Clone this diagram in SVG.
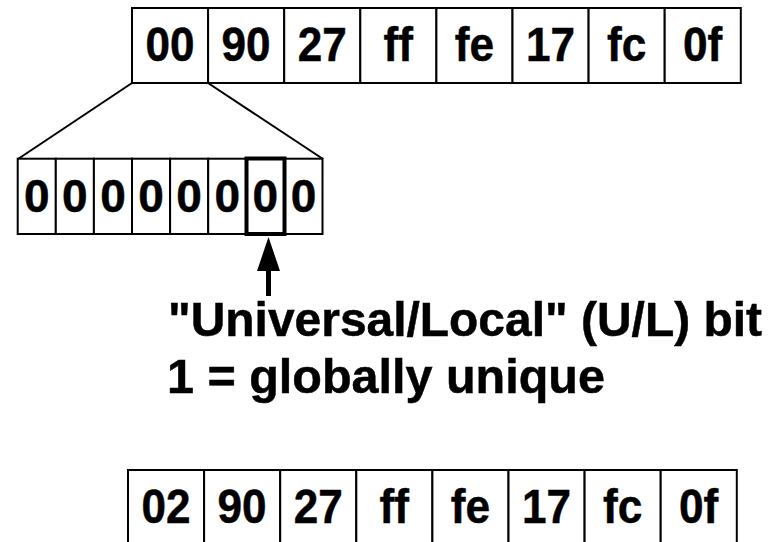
<svg xmlns="http://www.w3.org/2000/svg" width="781" height="542" viewBox="0 0 781 542">
<style>
.cell{fill:#fff;stroke:#000;stroke-width:2}
.t{font-family:"Liberation Sans",Arial,sans-serif;font-weight:bold;fill:#000;stroke:#000;stroke-width:0.5;text-anchor:middle}
.big{font-size:48px}
.bit{font-size:46px}
.lbl{font-family:"Liberation Sans",Arial,sans-serif;font-weight:bold;font-size:48.5px;fill:#000;stroke:#000;stroke-width:0.5}
</style>
<rect width="781" height="542" fill="#fff"/>
<g id="connectors" stroke="#000" fill="none">
<line x1="18" y1="159" x2="132" y2="83" stroke-width="2"/>
<line x1="323" y1="159" x2="208" y2="83" stroke-width="2"/>
<line x1="268.5" y1="296" x2="268.5" y2="268" stroke-width="5"/>
<polygon points="268.5,237 257,271 280,271" fill="#000" stroke="none"/>
</g>
<g id="top-address">
<rect class="cell" x="132" y="8" width="76.1" height="75"/>
<rect class="cell" x="208.1" y="8" width="76.1" height="75"/>
<rect class="cell" x="284.2" y="8" width="76.1" height="75"/>
<rect class="cell" x="360.3" y="8" width="76.1" height="75"/>
<rect class="cell" x="436.4" y="8" width="76.1" height="75"/>
<rect class="cell" x="512.5" y="8" width="76.1" height="75"/>
<rect class="cell" x="588.6" y="8" width="76.1" height="75"/>
<rect class="cell" x="664.7" y="8" width="76.1" height="75"/>
<text class="t big" x="170" y="61" textLength="49" lengthAdjust="spacingAndGlyphs">00</text>
<text class="t big" x="246.1" y="61" textLength="49" lengthAdjust="spacingAndGlyphs">90</text>
<text class="t big" x="322.2" y="61" textLength="49" lengthAdjust="spacingAndGlyphs">27</text>
<text class="t big" x="398.3" y="61" textLength="29.4" lengthAdjust="spacingAndGlyphs">ff</text>
<text class="t big" x="474.4" y="61" textLength="39.3" lengthAdjust="spacingAndGlyphs">fe</text>
<text class="t big" x="550.5" y="61" textLength="49" lengthAdjust="spacingAndGlyphs">17</text>
<text class="t big" x="626.6" y="61" textLength="39.3" lengthAdjust="spacingAndGlyphs">fc</text>
<text class="t big" x="702.7" y="61" textLength="39.3" lengthAdjust="spacingAndGlyphs">0f</text>
</g>
<g id="bits">
<rect class="cell" x="17.7" y="158.7" width="38.1" height="75.3"/>
<rect class="cell" x="55.8" y="158.7" width="38.1" height="75.3"/>
<rect class="cell" x="93.9" y="158.7" width="38.1" height="75.3"/>
<rect class="cell" x="132" y="158.7" width="38.1" height="75.3"/>
<rect class="cell" x="170.1" y="158.7" width="38.1" height="75.3"/>
<rect class="cell" x="208.2" y="158.7" width="38.1" height="75.3"/>
<rect class="cell" x="246.3" y="158.7" width="38.1" height="75.3"/>
<rect class="cell" x="284.4" y="158.7" width="38.1" height="75.3"/>
<text class="t bit" x="36.75" y="212">0</text>
<text class="t bit" x="74.85" y="212">0</text>
<text class="t bit" x="112.95" y="212">0</text>
<text class="t bit" x="151.05" y="212">0</text>
<text class="t bit" x="189.15" y="212">0</text>
<text class="t bit" x="227.25" y="212">0</text>
<text class="t bit" x="265.35" y="212">0</text>
<text class="t bit" x="303.45" y="212">0</text>
</g>
<g id="ul-bit-highlight">
<rect x="246.5" y="158.5" width="38" height="75.5" fill="none" stroke="#000" stroke-width="4"/>
</g>
<g id="label">
<text class="lbl" x="168" y="336" textLength="594" lengthAdjust="spacingAndGlyphs">"Universal/Local" (U/L) bit</text>
<text class="lbl" x="167" y="393">1 = globally unique</text>
</g>
<g id="bottom-address">
<rect class="cell" x="128" y="470" width="76.1" height="80"/>
<rect class="cell" x="204.1" y="470" width="76.1" height="80"/>
<rect class="cell" x="280.2" y="470" width="76.1" height="80"/>
<rect class="cell" x="356.3" y="470" width="76.1" height="80"/>
<rect class="cell" x="432.4" y="470" width="76.1" height="80"/>
<rect class="cell" x="508.5" y="470" width="76.1" height="80"/>
<rect class="cell" x="584.6" y="470" width="76.1" height="80"/>
<rect class="cell" x="660.7" y="470" width="76.1" height="80"/>
<text class="t big" x="166" y="523" textLength="49" lengthAdjust="spacingAndGlyphs">02</text>
<text class="t big" x="242.1" y="523" textLength="49" lengthAdjust="spacingAndGlyphs">90</text>
<text class="t big" x="318.2" y="523" textLength="49" lengthAdjust="spacingAndGlyphs">27</text>
<text class="t big" x="394.3" y="523" textLength="29.4" lengthAdjust="spacingAndGlyphs">ff</text>
<text class="t big" x="470.4" y="523" textLength="39.3" lengthAdjust="spacingAndGlyphs">fe</text>
<text class="t big" x="546.5" y="523" textLength="49" lengthAdjust="spacingAndGlyphs">17</text>
<text class="t big" x="622.6" y="523" textLength="39.3" lengthAdjust="spacingAndGlyphs">fc</text>
<text class="t big" x="698.7" y="523" textLength="39.3" lengthAdjust="spacingAndGlyphs">0f</text>
</g>
</svg>
